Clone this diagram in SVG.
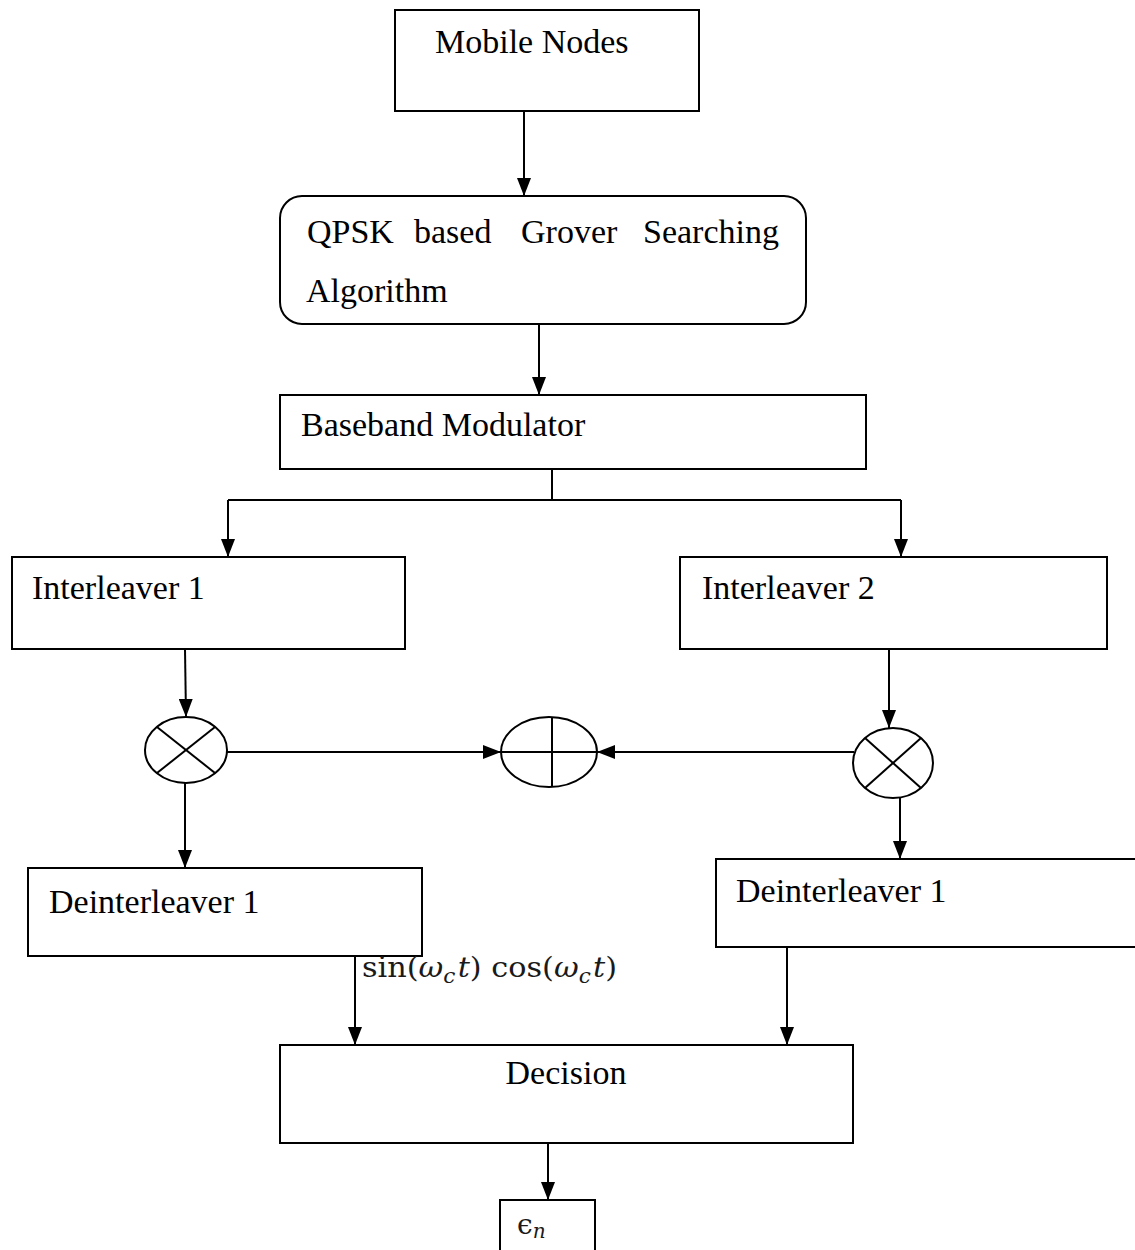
<svg xmlns="http://www.w3.org/2000/svg" width="1135" height="1250" viewBox="0 0 1135 1250">
  <style>
    .box { fill: #ffffff; stroke: #000000; stroke-width: 2; }
    .sym { fill: #ffffff; stroke: #000000; stroke-width: 2; }
    .sym-line { stroke: #000000; stroke-width: 2; fill: none; }
    .wire { stroke: #000000; stroke-width: 2; fill: none; }
    .lbl { font-family: "Liberation Serif", "Times New Roman", serif; font-size: 34px; fill: #000000; }
    .math { font-family: "DejaVu Serif", "Liberation Serif", serif; font-size: 28px; fill: #1a1a1a; }
    .it { font-style: italic; }
  </style>
  <defs>
    <marker id="arrow" viewBox="0 0 18 14" refX="18" refY="7" markerWidth="18" markerHeight="14" markerUnits="userSpaceOnUse" orient="auto">
      <path d="M0,0 L18,7 L0,14 Z" fill="#000000"/>
    </marker>
  </defs>

  <rect width="1135" height="1250" fill="#ffffff"/>

  <!-- connectors -->
  <g id="connectors">
    <line class="wire" x1="524" y1="111" x2="524" y2="196" marker-end="url(#arrow)"/>
    <line class="wire" x1="539" y1="324" x2="539" y2="395" marker-end="url(#arrow)"/>
    <polyline class="wire" points="552,469 552,500"/>
    <line class="wire" x1="228" y1="500" x2="901" y2="500"/>
    <line class="wire" x1="228" y1="500" x2="228" y2="557" marker-end="url(#arrow)"/>
    <line class="wire" x1="901" y1="500" x2="901" y2="557" marker-end="url(#arrow)"/>
    <line class="wire" x1="185" y1="649" x2="186" y2="717" marker-end="url(#arrow)"/>
    <line class="wire" x1="889" y1="649" x2="889" y2="728" marker-end="url(#arrow)"/>
    <line class="wire" x1="227" y1="752" x2="501" y2="752" marker-end="url(#arrow)"/>
    <line class="wire" x1="854" y1="752" x2="597" y2="752" marker-end="url(#arrow)"/>
    <line class="wire" x1="185" y1="783" x2="185" y2="868" marker-end="url(#arrow)"/>
    <line class="wire" x1="900" y1="798" x2="900" y2="859" marker-end="url(#arrow)"/>
    <line class="wire" x1="355" y1="956" x2="355" y2="1045" marker-end="url(#arrow)"/>
    <line class="wire" x1="787" y1="947" x2="787" y2="1045" marker-end="url(#arrow)"/>
    <line class="wire" x1="548" y1="1143" x2="548" y2="1200" marker-end="url(#arrow)"/>
  </g>

  <g id="mobile-nodes">
    <rect class="box" x="395" y="10" width="304" height="101"/>
    <text class="lbl" x="435" y="53">Mobile Nodes</text>
  </g>

  <g id="grover-search">
    <rect class="box" x="280" y="196" width="526" height="128" rx="22" ry="22"/>
    <text class="lbl" y="243"><tspan x="307">QPSK</tspan><tspan x="414">based</tspan><tspan x="521">Grover</tspan><tspan x="643">Searching</tspan></text>
    <text class="lbl" x="306" y="302">Algorithm</text>
  </g>

  <g id="baseband-modulator">
    <rect class="box" x="280" y="395" width="586" height="74"/>
    <text class="lbl" x="301" y="436">Baseband Modulator</text>
  </g>

  <g id="interleaver-1">
    <rect class="box" x="12" y="557" width="393" height="92"/>
    <text class="lbl" x="32" y="599">Interleaver 1</text>
  </g>

  <g id="interleaver-2">
    <rect class="box" x="680" y="557" width="427" height="92"/>
    <text class="lbl" x="702" y="599">Interleaver 2</text>
  </g>

  <g id="multiplier-1">
    <ellipse class="sym" cx="186" cy="750" rx="41" ry="33"/>
    <line class="sym-line" x1="157" y1="727" x2="215" y2="773"/>
    <line class="sym-line" x1="215" y1="727" x2="157" y2="773"/>
  </g>

  <g id="adder">
    <ellipse class="sym" cx="549" cy="752" rx="48" ry="35"/>
    <line class="sym-line" x1="501" y1="752" x2="597" y2="752"/>
    <line class="sym-line" x1="552" y1="717" x2="552" y2="787"/>
  </g>

  <g id="multiplier-2">
    <ellipse class="sym" cx="893" cy="763" rx="40" ry="35"/>
    <line class="sym-line" x1="865" y1="738" x2="921" y2="788"/>
    <line class="sym-line" x1="921" y1="738" x2="865" y2="788"/>
  </g>

  <g id="deinterleaver-left">
    <rect class="box" x="28" y="868" width="394" height="88"/>
    <text class="lbl" x="49" y="913">Deinterleaver 1</text>
  </g>

  <g id="deinterleaver-right">
    <rect class="box" x="716" y="859" width="430" height="88"/>
    <text class="lbl" x="736" y="902">Deinterleaver 1</text>
  </g>

  <g id="carrier-label">
    <text class="math" x="362" y="977" textLength="255" lengthAdjust="spacingAndGlyphs">sin(<tspan class="it">ω</tspan><tspan class="it" font-size="20" dy="6">c</tspan><tspan class="it" dy="-6" dx="2">t</tspan>) cos(<tspan class="it">ω</tspan><tspan class="it" font-size="20" dy="6">c</tspan><tspan class="it" dy="-6" dx="2">t</tspan>)</text>
  </g>

  <g id="decision">
    <rect class="box" x="280" y="1045" width="573" height="98"/>
    <text class="lbl" x="566" y="1084" text-anchor="middle">Decision</text>
  </g>

  <g id="error-output">
    <rect class="box" x="500" y="1200" width="95" height="60"/>
    <text class="math" x="517" y="1234" font-size="28">ϵ<tspan class="it" font-size="20" dy="4">n</tspan></text>
  </g>
</svg>
